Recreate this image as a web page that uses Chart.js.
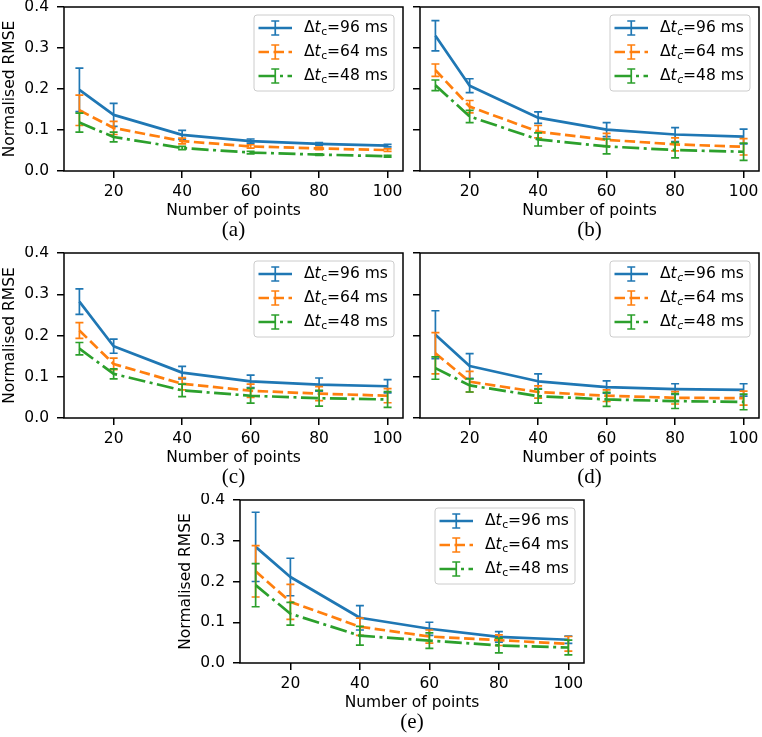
<!DOCTYPE html>
<html>
<head>
<meta charset="utf-8">
<script src="https://cdn.jsdelivr.net/npm/chart.js@4.4.1/dist/chart.umd.min.js"></script>
<style>
  body { margin: 0; background: #fff; }
  #fig { position: relative; width: 762px; height: 737px; overflow: hidden; background: #fff; }
  #fig canvas { position: absolute; }
</style>
</head>
<body>
<div id="fig">
  <canvas id="chartA"></canvas>
  <canvas id="chartB"></canvas>
  <canvas id="chartC"></canvas>
  <canvas id="chartD"></canvas>
  <canvas id="chartE"></canvas>
</div>
<script>
// x values and ticks, shared by all panels
const pointsCount = [10, 20, 40, 60, 80, 100];
const xTickValues = [20, 40, 60, 80, 100];
const yTickValues = [0, 0.1, 0.2, 0.3, 0.4];
const seriesMs = ['96', '64', '48'];   // delta t_c in ms

// (a)
const rmseA96 = [0.198, 0.137, 0.088, 0.073, 0.066, 0.062];
const errA96  = [0.053, 0.028, 0.011, 0.005, 0.003, 0.003];
const rmseA64 = [0.148, 0.105, 0.073, 0.060, 0.055, 0.051];
const errA64  = [0.037, 0.016, 0.007, 0.004, 0.003, 0.003];
const rmseA48 = [0.118, 0.083, 0.056, 0.045, 0.040, 0.036];
const errA48  = [0.023, 0.012, 0.004, 0.003, 0.002, 0.002];

// (b)
const rmseB96 = [0.330, 0.208, 0.130, 0.101, 0.089, 0.084];
const errB96  = [0.037, 0.017, 0.014, 0.017, 0.017, 0.018];
const rmseB64 = [0.246, 0.157, 0.096, 0.076, 0.065, 0.059];
const errB64  = [0.015, 0.015, 0.015, 0.016, 0.016, 0.020];
const rmseB48 = [0.209, 0.133, 0.077, 0.060, 0.051, 0.047];
const errB48  = [0.013, 0.015, 0.016, 0.018, 0.019, 0.021];

// (c)
const rmseC96 = [0.282, 0.174, 0.110, 0.089, 0.081, 0.077];
const errC96  = [0.031, 0.017, 0.015, 0.015, 0.016, 0.016];
const rmseC64 = [0.212, 0.131, 0.083, 0.066, 0.059, 0.054];
const errC64  = [0.019, 0.014, 0.015, 0.016, 0.017, 0.017];
const rmseC48 = [0.168, 0.107, 0.067, 0.054, 0.048, 0.045];
const errC48  = [0.015, 0.012, 0.015, 0.018, 0.019, 0.019];

// (d)
const rmseD96 = [0.202, 0.126, 0.089, 0.075, 0.070, 0.068];
const errD96  = [0.058, 0.030, 0.018, 0.015, 0.013, 0.015];
const rmseD64 = [0.157, 0.088, 0.063, 0.054, 0.049, 0.048];
const errD64  = [0.050, 0.025, 0.015, 0.014, 0.015, 0.017];
const rmseD48 = [0.121, 0.079, 0.053, 0.045, 0.041, 0.039];
const errD48  = [0.027, 0.016, 0.017, 0.017, 0.018, 0.019];

// (e)
const rmseE96 = [0.285, 0.211, 0.111, 0.084, 0.064, 0.057];
const errE96  = [0.085, 0.046, 0.030, 0.016, 0.013, 0.009];
const rmseE64 = [0.225, 0.150, 0.089, 0.065, 0.056, 0.047];
const errE64  = [0.063, 0.043, 0.021, 0.016, 0.013, 0.018];
const rmseE48 = [0.191, 0.121, 0.067, 0.055, 0.043, 0.038];
const errE48  = [0.053, 0.028, 0.023, 0.019, 0.018, 0.018];

const colors = ['#1f77b4', '#ff7f0e', '#2ca02c'];
const dashes = [[], [10.5, 4.5], [17, 4.5, 3, 4.5]];

Chart.defaults.color = '#000';
Chart.defaults.font.family = "'DejaVu Sans'";

// where each panel sits on the page (left/top of canvas, plot area size)
const panels = [
  { id: 'chartA', caption: '(a)', left: 0,   top: 0,   w: 339, h: 164, yLabels: true,  upright: true,
    series: [[rmseA96, errA96], [rmseA64, errA64], [rmseA48, errA48]] },
  { id: 'chartB', caption: '(b)', left: 356, top: 0,   w: 339, h: 164, yLabels: false, upright: false,
    series: [[rmseB96, errB96], [rmseB64, errB64], [rmseB48, errB48]] },
  { id: 'chartC', caption: '(c)', left: 0,   top: 246, w: 339, h: 165, yLabels: true,  upright: true,
    series: [[rmseC96, errC96], [rmseC64, errC64], [rmseC48, errC48]] },
  { id: 'chartD', caption: '(d)', left: 356, top: 246, w: 339, h: 165, yLabels: false, upright: false,
    series: [[rmseD96, errD96], [rmseD64, errD64], [rmseD48, errD48]] },
  { id: 'chartE', caption: '(e)', left: 176, top: 493, w: 344, h: 163, yLabels: true,  upright: true,
    series: [[rmseE96, errE96], [rmseE64, errE64], [rmseE48, errE48]] },
];

const marginLeft = 64, marginTop = 7, marginRight = 3, marginBottom = 74;
const fontPx = 15.5;

// vertical error bars with caps, drawn right after each line
const errorBarPlugin = {
  id: 'errorBars',
  afterDatasetDraw(chart, args) {
    const ds = chart.data.datasets[args.index];
    const { ctx, chartArea, scales: { x, y } } = chart;
    ctx.save();
    ctx.beginPath();
    ctx.rect(chartArea.left, chartArea.top, chartArea.right - chartArea.left, chartArea.bottom - chartArea.top);
    ctx.clip();
    ctx.strokeStyle = ds.borderColor;
    ctx.lineWidth = 1.7;
    ctx.setLineDash([]);
    ds.data.forEach((pt, i) => {
      const px = x.getPixelForValue(pt.x);
      const top = y.getPixelForValue(pt.y + ds.err[i]);
      const bot = y.getPixelForValue(pt.y - ds.err[i]);
      ctx.beginPath();
      ctx.moveTo(px, top); ctx.lineTo(px, bot);
      ctx.moveTo(px - 4, top); ctx.lineTo(px + 4, top);
      ctx.moveTo(px - 4, bot); ctx.lineTo(px + 4, bot);
      ctx.stroke();
    });
    ctx.restore();
  }
};

function drawLegendLabel(ctx, x, y, ms, upright) {
  ctx.textBaseline = 'middle';
  ctx.textAlign = 'left';
  ctx.fillStyle = '#000';
  ctx.font = fontPx + "px 'DejaVu Sans'";
  ctx.fillText('\u0394', x, y);
  x += ctx.measureText('\u0394').width;
  ctx.font = "italic " + fontPx + "px 'DejaVu Sans'";
  ctx.fillText('t', x, y);
  x += ctx.measureText('t').width + 0.5;
  ctx.font = (upright ? '' : 'italic ') + "10.8px 'DejaVu Sans'";
  ctx.fillText('c', x, y + 4);
  x += ctx.measureText('c').width;
  ctx.font = fontPx + "px 'DejaVu Sans'";
  ctx.fillText('=' + ms + ' ms', x, y);
}

function makeFramePlugin(p) {
  return {
    id: 'frame',
    afterDraw(chart) {
      const { ctx, chartArea: a } = chart;
      ctx.save();
      // spines
      ctx.strokeStyle = '#000';
      ctx.lineWidth = 1.5;
      ctx.strokeRect(a.left, a.top, a.right - a.left, a.bottom - a.top);

      // legend
      const boxW = 140, boxH = 76;
      const bx = a.right - 9 - boxW, by = a.top + 8;
      ctx.beginPath();
      ctx.roundRect(bx, by, boxW, boxH, 3);
      ctx.fillStyle = 'rgba(255,255,255,0.8)';
      ctx.fill();
      ctx.strokeStyle = '#cccccc';
      ctx.lineWidth = 1;
      ctx.stroke();
      seriesMs.forEach((ms, i) => {
        const ly = by + 13 + i * 24;
        const x0 = bx + 4.5, x1 = bx + 38, xc = (x0 + x1) / 2;
        ctx.strokeStyle = colors[i];
        ctx.lineWidth = 2.7;
        ctx.setLineDash(dashes[i]);
        ctx.beginPath();
        ctx.moveTo(x0, ly); ctx.lineTo(x1, ly);
        ctx.stroke();
        ctx.setLineDash([]);
        ctx.lineWidth = 1.7;
        ctx.beginPath();
        ctx.moveTo(xc, ly - 7); ctx.lineTo(xc, ly + 7);
        ctx.moveTo(xc - 4, ly - 7); ctx.lineTo(xc + 4, ly - 7);
        ctx.moveTo(xc - 4, ly + 7); ctx.lineTo(xc + 4, ly + 7);
        ctx.stroke();
        drawLegendLabel(ctx, bx + 50, ly, ms, p.upright);
      });

      // sub-figure caption
      ctx.fillStyle = '#000';
      ctx.font = "21px 'Liberation Serif'";
      ctx.textAlign = 'center';
      ctx.textBaseline = 'middle';
      ctx.fillText(p.caption, (a.left + a.right) / 2, a.bottom + 59);
      ctx.restore();
    }
  };
}

function makeChart(p) {
  const canvas = document.getElementById(p.id);
  canvas.width = marginLeft + p.w + marginRight;
  canvas.height = marginTop + p.h + marginBottom;
  canvas.style.left = p.left + 'px';
  canvas.style.top = p.top + 'px';

  const datasets = p.series.map((s, i) => ({
    label: seriesMs[i],
    data: pointsCount.map((v, j) => ({ x: v, y: s[0][j] })),
    err: s[1],
    borderColor: colors[i],
    borderWidth: 2.7,
    borderDash: dashes[i],
    borderJoinStyle: 'round',
    pointRadius: 0,
    fill: false,
    tension: 0,
    order: 3 - i
  }));

  const tickFont = { size: fontPx };
  const axisGrid = { drawOnChartArea: false, drawTicks: true, tickLength: 7, color: '#000', lineWidth: 1.5 };

  return new Chart(canvas, {
    type: 'line',
    data: { datasets: datasets },
    options: {
      responsive: false,
      animation: false,
      layout: { padding: { top: marginTop, right: marginRight, left: 0, bottom: 0 } },
      plugins: { legend: { display: false }, tooltip: { enabled: false } },
      scales: {
        x: {
          type: 'linear',
          min: 5.5,
          max: 104.5,
          afterBuildTicks: sc => { sc.ticks = xTickValues.map(v => ({ value: v })); },
          afterFit: sc => { sc.height = marginBottom; sc.paddingLeft = 0; sc.paddingRight = 0; },
          grid: axisGrid,
          border: { display: false },
          ticks: { font: tickFont, padding: 5, maxRotation: 0, autoSkip: false },
          title: { display: true, text: 'Number of points', font: tickFont, padding: { top: 0, bottom: 25 } }
        },
        y: {
          min: 0,
          max: 0.4,
          afterBuildTicks: sc => { sc.ticks = yTickValues.map(v => ({ value: v })); },
          afterFit: sc => { sc.width = marginLeft; sc.paddingTop = 0; sc.paddingBottom = 0; },
          grid: axisGrid,
          border: { display: false },
          ticks: { font: tickFont, padding: 8, callback: v => p.yLabels ? v.toFixed(1) : '' },
          title: { display: p.yLabels, text: 'Normalised RMSE', font: tickFont, padding: { top: 1, bottom: 0 } }
        }
      }
    },
    plugins: [errorBarPlugin, makeFramePlugin(p)]
  });
}

panels.forEach(makeChart);
</script>
</body>
</html>
